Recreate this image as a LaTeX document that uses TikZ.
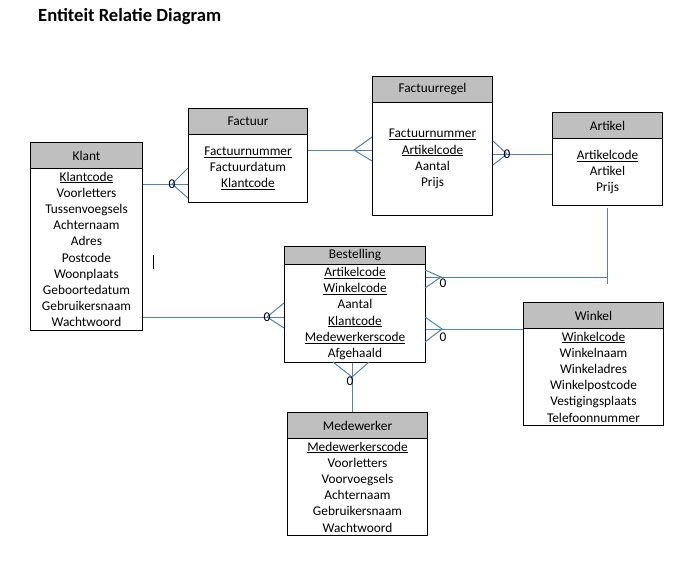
\documentclass[tikz,border=0pt]{standalone}
\usepackage{fontspec}
\setmainfont{Carlito}
\usepackage{tikz}
\usetikzlibrary{calc}
\usetikzlibrary{positioning}
\definecolor{lijn}{RGB}{79,129,189}
\definecolor{kop}{RGB}{191,191,191}
\tikzset{
  head/.style={draw, fill=kop, anchor=north west, inner sep=0pt, line width=1pt, font=\fontsize{13.33}{16.2}\selectfont},
  attr/.style={draw, anchor=north west, inner sep=0pt, align=center, line width=1pt, font=\fontsize{13.33}{16.2}\selectfont},
  rel/.style={draw=lijn, line width=1pt},
  nul/.style={inner sep=0pt, font=\fontsize{13.33}{16.2}\selectfont}
}

\begin{document}
\begin{tikzpicture}[x=1pt,y=-1pt]
				\useasboundingbox (0,0) rectangle (688,581);
				\node[anchor=base west, inner sep=0pt, font=\fontsize{18.6}{22}\selectfont\bfseries] (T) at (38,21) {Entiteit Relatie Diagram};
				
				\node[head, minimum width=112pt, minimum height=26pt] (K) at (30,142) {Klant};
				\node[attr, minimum width=112pt, minimum height=162pt] (Kb) at (30,168) {\underline{Klantcode}\\Voorletters\\Tussenvoegsels\\Achternaam\\Adres\\Postcode\\Woonplaats\\Geboortedatum\\Gebruikersnaam\\Wachtwoord};
				\node[head, minimum width=119pt, minimum height=26pt] (F) at (188,108) {Factuur};
				\node[attr, minimum width=119pt, minimum height=68pt] (Fb) at (188,134) {\underline{Factuurnummer}\\Factuurdatum\\\underline{Klantcode}};
				\node[head, minimum width=120pt, minimum height=26pt] (R) at (372,76) {Factuurregel};
				\node[attr, minimum width=120pt, minimum height=113pt] (Rb) at (372,102) {\underline{Factuurnummer}\\\underline{Artikelcode}\\Aantal\\Prijs};
				\node[head, minimum width=110pt, minimum height=26pt] (A) at (552,112) {Artikel};
				\node[attr, minimum width=110pt, minimum height=67pt] (Ab) at (552,138) {\underline{Artikelcode}\\Artikel\\Prijs};
				\node[head, minimum width=141pt, minimum height=18pt] (B) at (284,246) {Bestelling};
				\node[attr, minimum width=141pt, minimum height=98pt] (Bb) at (284,264) {\underline{Artikelcode}\\\underline{Winkelcode}\\Aantal\\\underline{Klantcode}\\\underline{Medewerkerscode}\\Afgehaald};
				\node[head, minimum width=140pt, minimum height=26pt] (W) at (523,302) {Winkel};
				\node[attr, minimum width=140pt, minimum height=97pt] (Wb) at (523,328) {\underline{Winkelcode}\\Winkelnaam\\Winkeladres\\Winkelpostcode\\Vestigingsplaats\\Telefoonnummer};
				\node[head, minimum width=140pt, minimum height=26pt] (M) at (287,412) {Medewerker};
				\node[attr, minimum width=140pt, minimum height=97pt] (Mb) at (287,438) {\underline{Medewerkerscode}\\Voorletters\\Voorvoegsels\\Achternaam\\Gebruikersnaam\\Wachtwoord};
				
				% crow's foot points
				\coordinate (c1) at (172,184);
				\coordinate (c2) at (354,150);
				\coordinate (c3) at (507,154);
				\coordinate (c4) at (441,277);
				\coordinate (c5) at (442,329);
				\coordinate (c6) at (267,317);
				\coordinate (c7) at (352,377);
				
				\draw[rel] (Kb.east |- c1) -- (Fb.west |- c1);
				\draw[rel] ($(c1)+(16,-16)$) -- (c1) -- ($(c1)+(16,14)$);
				\node[nul] at (c1) {0};
				
				\draw[rel] (Fb.east |- c2) -- (Rb.west |- c2);
				\draw[rel] ($(c2)+(18,-13)$) -- (c2) -- ($(c2)+(18,11)$);
				
				\draw[rel] (Rb.east |- c3) -- (Ab.west |- c3);
				\draw[rel] ($(c3)+(-14,-13)$) -- (c3) -- ($(c3)+(-14,11)$);
				\node[nul] at (c3) {0};
				
				\draw[rel] (Bb.east |- c4) -- (Ab.south |- c4);
				\draw[rel] ([yshift=-2pt]Ab.south) -- ($(Ab.south |- c4)+(0,7)$);
				\draw[rel] ($(c4)+(-16,-7)$) -- (c4) -- ($(c4)+(-16,11)$);
				\node[nul] at ($(c4)+(2,6)$) {0};
				
				\draw[rel] (Bb.east |- c5) -- (Wb.west |- c5);
				\draw[rel] ($(c5)+(-17,-12)$) -- (c5) -- ($(c5)+(-17,13)$);
				\node[nul] at ($(c5)+(1,8)$) {0};
				
				\draw[rel] (Kb.east |- c6) -- (Bb.west |- c6);
				\draw[rel] ($(c6)+(17,-14)$) -- (c6) -- ($(c6)+(17,11)$);
				\node[nul] at (c6) {0};
				
				\draw[rel] (Bb.south -| c7) -- (M.north -| c7);
				\draw[rel] ($(c7)+(-19,-15)$) -- (c7) -- ($(c7)+(17,-15)$);
				\node[nul] at ($(c7)+(-2,4)$) {0};
				
				\draw[line width=1pt] (153,255) -- (153,269);
			\end{tikzpicture}
\end{document}
